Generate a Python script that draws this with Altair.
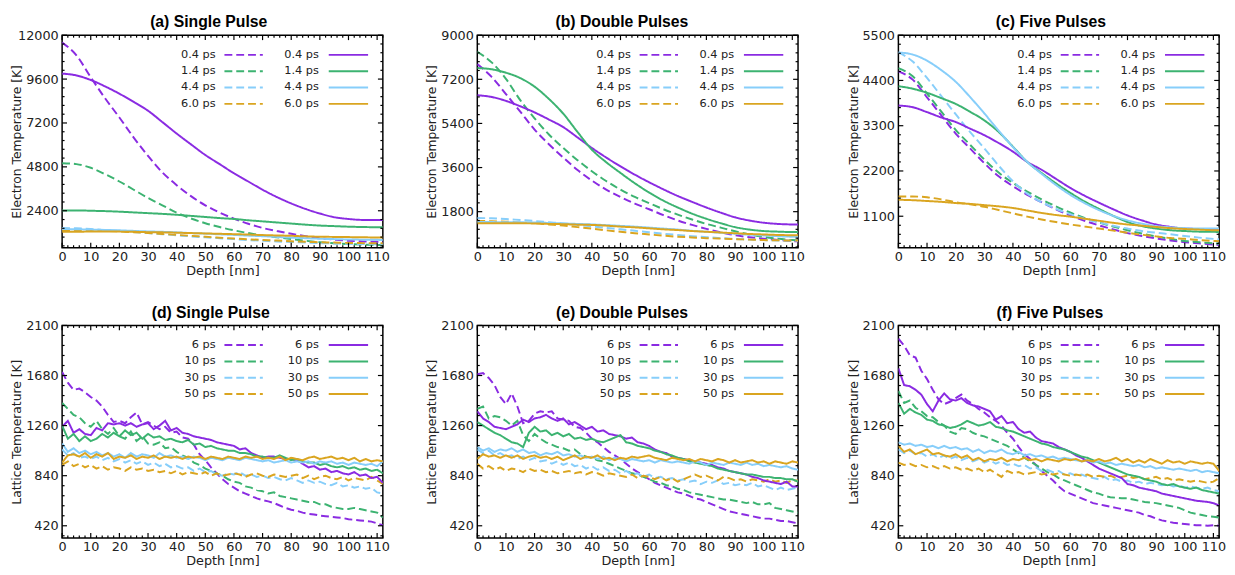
import altair as alt
import pandas as pd

COLORS = ["#8a2be2", "#3cb371", "#87cefa", "#daa520"]
TOP_LABELS = ["0.4 ps", "1.4 ps", "4.4 ps", "6.0 ps"]
BOT_LABELS = ["6 ps", "10 ps", "30 ps", "50 ps"]
TITLES = ["(a) Single Pulse", "(b) Double Pulses", "(c) Five Pulses",
          "(d) Single Pulse", "(e) Double Pulses", "(f) Five Pulses"]

X_MAJOR = [0, 10, 20, 30, 40, 50, 60, 70, 80, 90, 100, 110]
X_MINOR = [v for v in range(0, 113, 2) if v % 10 != 0]

E_X = [0, 5, 10, 15, 20, 25, 30, 35, 40, 45, 50, 55, 60, 65, 70, 75, 80, 85, 90, 95, 100, 105, 110, 112]
L_X = list(range(0, 113, 2))

# ---------------- electron temperature (a) ----------------
A_D0 = [11600, 10900, 9700, 8550, 7500, 6400, 5400, 4500, 3800, 3200, 2700, 2300, 1970, 1690, 1460, 1290, 1140, 1010, 900, 820, 760, 720, 700, 695]
A_D1 = [5000, 4950, 4750, 4400, 4000, 3550, 3100, 2700, 2300, 1980, 1720, 1510, 1330, 1180, 1050, 950, 850, 760, 680, 620, 580, 550, 525, 520]
A_D2 = [1460, 1440, 1400, 1350, 1300, 1240, 1180, 1120, 1060, 1000, 950, 900, 850, 800, 760, 720, 690, 660, 630, 610, 590, 580, 570, 570]
A_D3 = [1350, 1340, 1320, 1300, 1270, 1230, 1180, 1130, 1080, 1030, 980, 930, 880, 840, 800, 770, 730, 700, 680, 660, 640, 630, 620, 620]
A_S0 = [9900, 9800, 9550, 9200, 8800, 8350, 7870, 7250, 6620, 6030, 5450, 4950, 4450, 4000, 3550, 3150, 2800, 2500, 2250, 2050, 1950, 1900, 1900, 1900]
A_S1 = [2420, 2420, 2400, 2380, 2350, 2310, 2270, 2230, 2180, 2120, 2060, 2000, 1950, 1880, 1820, 1760, 1700, 1640, 1590, 1560, 1530, 1510, 1500, 1500]
A_S2 = [1400, 1390, 1370, 1350, 1330, 1300, 1270, 1250, 1220, 1180, 1150, 1110, 1080, 1040, 1010, 970, 930, 900, 870, 850, 830, 820, 810, 800]
A_S3 = [1250, 1255, 1260, 1260, 1260, 1250, 1230, 1220, 1200, 1180, 1160, 1140, 1120, 1100, 1070, 1050, 1030, 1000, 980, 970, 960, 950, 940, 940]

# ---------------- electron temperature (b) ----------------
B_D0 = [7820, 7300, 6600, 5880, 5150, 4550, 4010, 3500, 3070, 2700, 2400, 2130, 1900, 1660, 1440, 1260, 1100, 960, 840, 760, 700, 650, 600, 595]
B_D1 = [8320, 7890, 7220, 6350, 5610, 4950, 4400, 3900, 3450, 3050, 2700, 2400, 2150, 1900, 1680, 1480, 1300, 1150, 1000, 870, 770, 700, 640, 630]
B_D2 = [1540, 1530, 1500, 1460, 1420, 1370, 1320, 1260, 1200, 1140, 1080, 1020, 960, 900, 850, 800, 760, 720, 690, 660, 640, 620, 610, 610]
B_D3 = [1420, 1410, 1390, 1360, 1330, 1280, 1230, 1170, 1110, 1040, 980, 920, 870, 820, 780, 750, 720, 700, 680, 660, 640, 630, 620, 620]
B_S0 = [6550, 6480, 6320, 6100, 5850, 5560, 5250, 4830, 4400, 4010, 3650, 3310, 3000, 2710, 2440, 2200, 1970, 1760, 1570, 1440, 1350, 1300, 1280, 1280]
B_S1 = [7660, 7610, 7470, 7250, 6900, 6400, 5800, 5050, 4330, 3820, 3380, 2960, 2580, 2250, 1970, 1720, 1510, 1330, 1170, 1070, 1010, 985, 970, 970]
B_S2 = [1380, 1375, 1370, 1365, 1360, 1340, 1320, 1300, 1280, 1250, 1220, 1190, 1150, 1110, 1070, 1020, 980, 940, 900, 860, 830, 800, 780, 780]
B_S3 = [1330, 1330, 1330, 1325, 1320, 1300, 1290, 1270, 1260, 1230, 1190, 1160, 1120, 1080, 1050, 1010, 980, 950, 920, 890, 870, 850, 840, 840]

# ---------------- electron temperature (c) ----------------
C_D0 = [4620, 4420, 3990, 3550, 3110, 2750, 2390, 2070, 1830, 1620, 1440, 1270, 1120, 990, 880, 780, 690, 620, 560, 510, 470, 440, 410, 400]
C_D1 = [4700, 4500, 4080, 3640, 3200, 2840, 2480, 2160, 1910, 1700, 1510, 1340, 1190, 1060, 950, 850, 760, 680, 610, 550, 500, 470, 440, 430]
C_D2 = [5080, 4860, 4460, 4020, 3580, 3150, 2750, 2330, 1950, 1650, 1440, 1280, 1150, 1040, 950, 870, 800, 740, 700, 660, 620, 580, 550, 540]
C_D3 = [1580, 1580, 1560, 1510, 1440, 1390, 1330, 1250, 1170, 1090, 1020, 960, 900, 850, 800, 750, 700, 650, 610, 570, 550, 520, 500, 495]
C_S0 = [3790, 3750, 3630, 3500, 3390, 3230, 3070, 2880, 2670, 2420, 2230, 2010, 1790, 1600, 1430, 1270, 1120, 1000, 900, 840, 800, 790, 785, 785]
C_S1 = [4260, 4200, 4100, 3970, 3830, 3640, 3430, 3150, 2790, 2420, 2150, 1900, 1670, 1460, 1280, 1110, 960, 860, 800, 760, 740, 725, 720, 718]
C_S2 = [5080, 5030, 4880, 4650, 4370, 4000, 3600, 3180, 2780, 2420, 2130, 1860, 1620, 1420, 1250, 1110, 1000, 920, 860, 830, 810, 800, 800, 800]
C_S3 = [1500, 1490, 1470, 1450, 1420, 1400, 1370, 1340, 1300, 1240, 1180, 1130, 1090, 1040, 990, 940, 900, 870, 840, 810, 790, 775, 760, 758]

# ---------------- lattice temperature (d) ----------------
D_D0 = [1710, 1620, 1560, 1570, 1540, 1500, 1470, 1420, 1350, 1290, 1300, 1280, 1330, 1370, 1270, 1290, 1260, 1230, 1250, 1200, 1210, 1160, 1150, 1100, 1020, 970, 910, 860, 810, 770, 740, 710, 690, 670, 650, 635, 625, 610, 590, 570, 555, 545, 530, 520, 515, 505, 500, 495, 490, 485, 475, 470, 465, 460, 455, 440, 425]
D_D1 = [1450, 1400, 1350, 1330, 1280, 1250, 1300, 1230, 1190, 1240, 1170, 1150, 1210, 1130, 1170, 1110, 1100, 1120, 1070, 1080, 1040, 1010, 990, 950, 930, 900, 880, 860, 840, 810, 790, 780, 750, 740, 720, 710, 690, 700, 670, 660, 650, 640, 630, 620, 620, 600, 600, 580, 570, 560, 560, 570, 560, 550, 540, 530, 490]
D_D2 = [1060, 1010, 1030, 990, 1000, 980, 1000, 970, 990, 960, 980, 950, 970, 940, 960, 930, 950, 920, 940, 910, 920, 900, 910, 880, 900, 870, 880, 850, 840, 860, 850, 870, 840, 850, 830, 840, 820, 830, 810, 800, 820, 800, 780, 800, 780, 790, 770, 760, 780, 750, 760, 740, 750, 730, 740, 700, 690]
D_D3 = [930, 960, 920, 940, 910, 930, 900, 920, 890, 910, 900, 880, 910, 890, 900, 880, 890, 870, 880, 860, 880, 850, 870, 860, 850, 870, 840, 860, 840, 850, 860, 850, 830, 850, 860, 840, 830, 850, 840, 830, 840, 850, 820, 840, 810, 830, 840, 820, 810, 830, 800, 820, 810, 800, 830, 800, 770]
D_S0 = [1250, 1300, 1200, 1230, 1190, 1180, 1240, 1220, 1280, 1270, 1280, 1260, 1280, 1250, 1270, 1280, 1230, 1260, 1300, 1220, 1240, 1200, 1190, 1170, 1160, 1150, 1140, 1120, 1110, 1100, 1090, 1060, 1070, 1030, 1010, 990, 1000, 1000, 990, 980, 980, 970, 940, 910, 920, 890, 900, 870, 880, 860, 850, 870, 840, 850, 820, 830, 780]
D_S1 = [1260, 1150, 1190, 1130, 1170, 1130, 1150, 1190, 1160, 1200, 1170, 1220, 1180, 1200, 1150, 1190, 1160, 1170, 1140, 1150, 1130, 1120, 1140, 1100, 1110, 1080, 1090, 1070, 1060, 1050, 1050, 1030, 1030, 1020, 1000, 1000, 990, 990, 1010, 990, 970, 980, 960, 950, 950, 930, 940, 920, 910, 920, 900, 910, 890, 900, 880, 890, 860]
D_S2 = [1110, 1040, 1070, 1030, 1050, 1020, 1040, 1010, 1030, 1000, 1020, 990, 1030, 1000, 1020, 1010, 990, 1030, 1000, 1010, 990, 1000, 980, 1000, 990, 970, 990, 980, 970, 990, 980, 970, 990, 980, 970, 960, 970, 950, 960, 970, 950, 960, 950, 960, 940, 960, 950, 960, 940, 950, 930, 950, 940, 930, 940, 920, 960]
D_S3 = [950, 1010, 1020, 1000, 1030, 990, 1020, 1000, 1030, 980, 1000, 990, 1010, 980, 1000, 990, 1010, 980, 1000, 990, 1000, 980, 1000, 990, 1000, 980, 1000, 990, 980, 1000, 990, 980, 1000, 990, 1000, 980, 990, 980, 1000, 970, 990, 980, 970, 990, 1000, 980, 990, 1000, 980, 990, 970, 990, 960, 980, 960, 970, 960]

# ---------------- lattice temperature (e) ----------------
E_D0 = [1690, 1700, 1660, 1600, 1500, 1440, 1530, 1420, 1280, 1300, 1360, 1380, 1370, 1380, 1320, 1310, 1300, 1250, 1240, 1200, 1150, 1120, 1080, 1040, 1010, 980, 940, 900, 870, 840, 810, 780, 760, 740, 720, 700, 690, 670, 650, 640, 620, 600, 580, 560, 540, 530, 520, 510, 500, 490, 480, 480, 470, 460, 460, 450, 440]
E_D1 = [1400, 1420, 1320, 1340, 1330, 1300, 1260, 1300, 1180, 1130, 1190, 1150, 1120, 1100, 1080, 1070, 1050, 1060, 1020, 1000, 990, 970, 960, 940, 920, 900, 880, 860, 850, 830, 810, 790, 780, 760, 750, 730, 720, 700, 690, 680, 670, 660, 650, 640, 640, 630, 620, 610, 620, 600, 600, 610, 570, 560, 550, 540, 530]
E_D2 = [1060, 1030, 1050, 1010, 1030, 1000, 1010, 980, 1000, 970, 990, 960, 970, 940, 960, 930, 950, 920, 930, 900, 920, 890, 910, 880, 890, 860, 880, 850, 860, 830, 850, 820, 830, 810, 820, 800, 810, 790, 800, 770, 790, 780, 800, 770, 780, 760, 770, 760, 780, 750, 760, 740, 720, 740, 720, 730, 740]
E_D3 = [940, 900, 920, 890, 910, 880, 900, 890, 870, 900, 880, 890, 870, 880, 860, 870, 880, 860, 870, 850, 870, 860, 840, 860, 850, 840, 830, 850, 820, 840, 830, 810, 830, 800, 820, 790, 810, 830, 850, 830, 840, 820, 800, 830, 820, 800, 810, 790, 810, 800, 790, 810, 790, 800, 780, 800, 800]
E_S0 = [1380, 1320, 1290, 1250, 1240, 1230, 1250, 1270, 1310, 1290, 1320, 1330, 1350, 1320, 1300, 1320, 1270, 1290, 1260, 1230, 1250, 1210, 1220, 1190, 1180, 1170, 1150, 1160, 1120, 1110, 1090, 1060, 1040, 1030, 1000, 990, 980, 970, 960, 950, 940, 930, 910, 900, 880, 870, 860, 850, 830, 820, 800, 790, 780, 770, 790, 750, 750]
E_S1 = [1290, 1260, 1230, 1200, 1180, 1150, 1120, 1110, 1080, 1200, 1250, 1210, 1220, 1180, 1200, 1170, 1190, 1150, 1160, 1140, 1150, 1130, 1120, 1140, 1160, 1180, 1120, 1110, 1090, 1080, 1070, 1050, 1040, 1020, 1010, 990, 980, 960, 950, 940, 930, 920, 900, 890, 880, 870, 860, 850, 850, 840, 830, 830, 820, 820, 810, 810, 790]
E_S2 = [1080, 1050, 1070, 1040, 1060, 1050, 1070, 1040, 1060, 1030, 1040, 1010, 1030, 1020, 1040, 1010, 1020, 1000, 1010, 990, 1000, 980, 1000, 970, 990, 980, 960, 980, 970, 960, 970, 950, 970, 960, 950, 960, 950, 940, 960, 950, 930, 950, 940, 930, 950, 940, 930, 950, 930, 940, 920, 930, 920, 910, 920, 900, 890]
E_S3 = [980, 1020, 1000, 1010, 990, 1010, 990, 1010, 980, 1000, 1010, 990, 1000, 980, 1000, 970, 990, 1010, 980, 1000, 990, 1010, 980, 990, 970, 990, 980, 1000, 990, 1000, 1010, 990, 980, 970, 990, 980, 970, 980, 960, 980, 970, 960, 980, 970, 950, 970, 950, 960, 970, 950, 960, 940, 960, 950, 940, 960, 950]

# ---------------- lattice temperature (f) ----------------
F_D0 = [1990, 1930, 1850, 1830, 1720, 1650, 1560, 1480, 1440, 1460, 1490, 1520, 1470, 1440, 1400, 1370, 1330, 1300, 1260, 1200, 1150, 1080, 1020, 980, 930, 880, 840, 800, 750, 710, 690, 670, 650, 630, 610, 600, 590, 580, 570, 560, 550, 540, 530, 510, 500, 480, 465, 455, 445, 440, 435, 430, 425, 425, 420, 425, 420]
F_D1 = [1550, 1450, 1470, 1410, 1380, 1340, 1330, 1290, 1260, 1210, 1190, 1240, 1230, 1200, 1180, 1170, 1150, 1130, 1110, 1090, 1060, 1030, 990, 960, 930, 900, 870, 850, 820, 800, 780, 760, 740, 720, 700, 690, 670, 660, 655, 650, 650, 640, 630, 620, 615, 610, 600, 590, 580, 570, 550, 530, 520, 510, 500, 495, 490]
F_D2 = [1060, 1030, 1050, 1020, 1030, 1000, 1020, 990, 1010, 980, 1000, 970, 990, 960, 980, 950, 970, 940, 960, 930, 940, 920, 930, 900, 910, 880, 890, 870, 880, 850, 860, 840, 850, 830, 820, 810, 830, 800, 810, 790, 800, 780, 790, 770, 780, 770, 760, 770, 750, 760, 740, 750, 740, 730, 740, 720, 710]
F_D3 = [950, 930, 940, 920, 930, 910, 920, 900, 920, 900, 910, 890, 900, 880, 900, 870, 890, 860, 830, 880, 860, 870, 850, 860, 870, 850, 860, 850, 860, 850, 840, 850, 840, 850, 830, 840, 830, 840, 820, 830, 840, 820, 830, 810, 820, 830, 810, 820, 800, 810, 800, 790, 800, 790, 780, 790, 820]
F_S0 = [1740, 1600, 1590, 1560, 1520, 1440, 1380, 1470, 1530, 1480, 1470, 1490, 1450, 1430, 1420, 1400, 1380, 1310, 1340, 1280, 1290, 1230, 1200, 1210, 1160, 1130, 1120, 1110, 1080, 1060, 1040, 1010, 990, 960, 930, 900, 880, 860, 840, 820, 770, 760, 740, 730, 720, 710, 690, 680, 670, 660, 650, 640, 630, 625, 620, 610, 590]
F_S1 = [1450, 1360, 1400, 1370, 1350, 1310, 1300, 1270, 1260, 1240, 1250, 1270, 1300, 1280, 1260, 1270, 1290, 1250, 1240, 1220, 1210, 1190, 1170, 1150, 1130, 1110, 1100, 1080, 1070, 1060, 1040, 1020, 1000, 990, 970, 950, 930, 910, 890, 870, 850, 840, 830, 810, 800, 790, 770, 760, 770, 750, 740, 730, 740, 720, 710, 700, 690]
F_S2 = [1120, 1100, 1110, 1090, 1100, 1080, 1090, 1070, 1090, 1070, 1080, 1060, 1070, 1040, 1060, 1030, 1050, 1040, 1060, 1030, 1020, 1040, 1010, 1020, 1000, 1010, 990, 1000, 980, 990, 980, 970, 960, 970, 950, 960, 940, 950, 930, 940, 930, 920, 930, 910, 920, 900, 910, 900, 890, 900, 890, 880, 890, 870, 880, 870, 860]
F_S3 = [1090, 1040, 1060, 1020, 1040, 1060, 1020, 1030, 1010, 1000, 1020, 990, 1010, 970, 990, 960, 980, 970, 990, 960, 980, 970, 990, 970, 980, 960, 980, 970, 960, 980, 970, 980, 960, 970, 960, 980, 960, 970, 990, 960, 980, 950, 970, 950, 980, 960, 940, 970, 950, 960, 940, 960, 950, 940, 950, 940, 880]

PANELS = [
    dict(title=TITLES[0], xs=E_X, dashed=[A_D0, A_D1, A_D2, A_D3], solid=[A_S0, A_S1, A_S2, A_S3],
         labels=TOP_LABELS, ydom=[380, 12000], yticks=[2400, 4800, 7200, 9600, 12000], ystep=480,
         ytitle="Electron Temperature [K]", interp="monotone", dx=-14),
    dict(title=TITLES[1], xs=E_X, dashed=[B_D0, B_D1, B_D2, B_D3], solid=[B_S0, B_S1, B_S2, B_S3],
         labels=TOP_LABELS, ydom=[330, 9000], yticks=[1800, 3600, 5400, 7200, 9000], ystep=360,
         ytitle="Electron Temperature [K]", interp="monotone", dx=-16),
    dict(title=TITLES[2], xs=E_X, dashed=[C_D0, C_D1, C_D2, C_D3], solid=[C_S0, C_S1, C_S2, C_S3],
         labels=TOP_LABELS, ydom=[335, 5500], yticks=[1100, 2200, 3300, 4400, 5500], ystep=220,
         ytitle="Electron Temperature [K]", interp="monotone", dx=-8),
    dict(title=TITLES[3], xs=L_X, dashed=[D_D0, D_D1, D_D2, D_D3], solid=[D_S0, D_S1, D_S2, D_S3],
         labels=BOT_LABELS, ydom=[318, 2100], yticks=[420, 840, 1260, 1680, 2100], ystep=84,
         ytitle="Lattice Temperature [K]", interp="linear", dx=-12),
    dict(title=TITLES[4], xs=L_X, dashed=[E_D0, E_D1, E_D2, E_D3], solid=[E_S0, E_S1, E_S2, E_S3],
         labels=BOT_LABELS, ydom=[318, 2100], yticks=[420, 840, 1260, 1680, 2100], ystep=84,
         ytitle="Lattice Temperature [K]", interp="linear", dx=-16),
    dict(title=TITLES[5], xs=L_X, dashed=[F_D0, F_D1, F_D2, F_D3], solid=[F_S0, F_S1, F_S2, F_S3],
         labels=BOT_LABELS, ydom=[318, 2100], yticks=[420, 840, 1260, 1680, 2100], ystep=84,
         ytitle="Lattice Temperature [K]", interp="linear", dx=-9),
]

W, H = 326, 216
DASH = [8, 4]
FONT = "DejaVu Sans"
TXT = "#222222"


def build_panel(p):
    rows = []
    for kind, series in (("dashed", p["dashed"]), ("solid", p["solid"])):
        for i, vals in enumerate(series):
            for x, v in zip(p["xs"], vals):
                rows.append({"depth": x, "T": v, "s": str(i), "kind": kind, "key": f"{kind}{i}"})
    df = pd.DataFrame(rows)

    xscale = alt.Scale(domain=[0, 112], nice=False, zero=False)
    yscale = alt.Scale(domain=p["ydom"], nice=False, zero=False)
    xaxis = alt.Axis(title="Depth [nm]", values=X_MAJOR, ticks=False, domain=False, grid=False,
                     labelFlush=False, labelOverlap=False, labelPadding=3, titlePadding=1,
                     labelFontSize=13, titleFontSize=13, labelFont=FONT, titleFont=FONT,
                     labelColor=TXT, titleColor=TXT, titleFontWeight="normal")
    yaxis = alt.Axis(title=p["ytitle"], values=p["yticks"], format="d", ticks=False, domain=False,
                     grid=False, labelOverlap=False, labelPadding=4, labelFontSize=13,
                     titleFontSize=12.5, labelFont=FONT, titleFont=FONT, labelColor=TXT,
                     titleColor=TXT, titleFontWeight="normal", minExtent=37, maxExtent=37,
                     titlePadding=2)

    lines = alt.Chart(df).mark_line(strokeWidth=2, interpolate=p["interp"], clip=True).encode(
        x=alt.X("depth:Q", scale=xscale, axis=xaxis),
        y=alt.Y("T:Q", scale=yscale, axis=yaxis),
        color=alt.Color("s:N", scale=alt.Scale(domain=["0", "1", "2", "3"], range=COLORS), legend=None),
        strokeDash=alt.StrokeDash("kind:N", scale=alt.Scale(domain=["dashed", "solid"], range=[DASH, [1, 0]]),
                                  legend=None),
        detail="key:N",
    )

    layers = [lines]

    # inward ticks on all four sides
    ymin, ymax = p["ydom"]
    y_major = p["yticks"]
    y_minor = []
    v = y_major[0] - p["ystep"] * 4
    while v <= ymax:
        if v >= ymin and all(abs(v - m) > 1e-6 for m in y_major):
            y_minor.append(v)
        v += p["ystep"]

    def xticks(vals, length):
        d = pd.DataFrame({"depth": vals})
        base = alt.Chart(d).mark_rule(color="black", strokeWidth=1.2)
        enc_x = alt.X("depth:Q", scale=xscale, axis=xaxis)
        return [base.encode(x=enc_x, y=alt.value(H), y2=alt.value(H - length)),
                base.encode(x=enc_x, y=alt.value(0), y2=alt.value(length))]

    def yticks_(vals, length):
        d = pd.DataFrame({"T": vals})
        base = alt.Chart(d).mark_rule(color="black", strokeWidth=1.2)
        enc_y = alt.Y("T:Q", scale=yscale, axis=yaxis)
        return [base.encode(y=enc_y, x=alt.value(0), x2=alt.value(length)),
                base.encode(y=enc_y, x=alt.value(W - length), x2=alt.value(W))]

    layers += xticks(X_MAJOR, 5) + xticks(X_MINOR, 2.5)
    layers += yticks_(y_major, 5) + yticks_(y_minor, 2.5)

    # legend drawn inside the plot (two columns: dashed, then solid)
    one = pd.DataFrame({"a": [0]})
    for col, (lab_x, x0, x1, dash) in enumerate(((156, 165, 204, DASH), (261, 271, 311, [1, 0]))):
        for i, lab in enumerate(p["labels"]):
            yy = 20 + 16.6 * i
            layers.append(alt.Chart(one).mark_text(align="right", baseline="middle", fontSize=11.5,
                                                   font=FONT, color=TXT).encode(
                x=alt.value(lab_x), y=alt.value(yy), text=alt.value(lab)))
            layers.append(alt.Chart(one).mark_rule(strokeWidth=2, strokeDash=dash, color=COLORS[i]).encode(
                x=alt.value(x0), x2=alt.value(x1), y=alt.value(yy)))

    return alt.layer(*layers).properties(
        width=W, height=H,
        title=alt.TitleParams(p["title"], font="Liberation Sans", fontSize=16, fontWeight="bold",
                              color="black", offset=-1, anchor="middle", dx=p["dx"]),
    )


charts = [build_panel(p) for p in PANELS]
top = alt.hconcat(alt.hconcat(charts[0], charts[1], spacing=35), charts[2], spacing=41)
bottom = alt.hconcat(alt.hconcat(charts[3], charts[4], spacing=35), charts[5], spacing=41)
chart = alt.vconcat(top, bottom, spacing=26).properties(
    padding={"left": 2, "top": 1, "right": 0, "bottom": 0}, background="white"
).configure_view(stroke="black", strokeWidth=1.5)

chart.save("out.html", embed_options={"renderer": "svg", "actions": False})
